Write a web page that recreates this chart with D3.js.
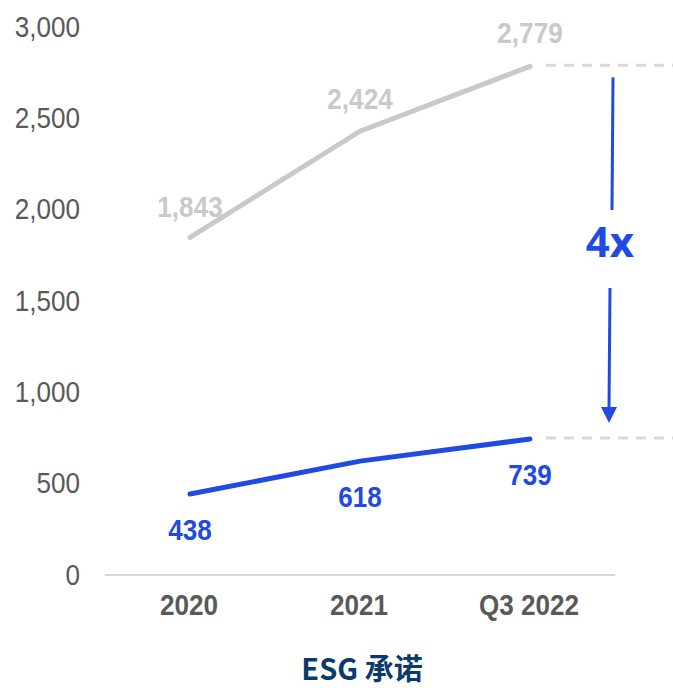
<!DOCTYPE html>
<html>
<head>
<meta charset="utf-8">
<script src="https://cdn.jsdelivr.net/npm/d3@7"></script>
<style>
  html, body { margin: 0; padding: 0; background: #fff; }
  svg { display: block; }
</style>
</head>
<body>
<svg id="chart" width="673" height="688"></svg>
<script>
// Periods and the two series plotted against them
const periods = ["2020", "2021", "Q3 2022"];
const totalValues = [1843, 2424, 2779];
const esgValues = [438, 618, 739];
const yTicks = [0, 500, 1000, 1500, 2000, 2500, 3000];
const titleText = "ESG 承诺";
const ratioText = "4x";

const svg = d3.select("#chart");
const fmt = d3.format(",");

const x = d3.scalePoint().domain(periods).range([105, 615]).padding(0.5);
const y = d3.scaleLinear().domain([0, 3000]).range([574, 26]);

const latin = "'Liberation Sans', Arial, sans-serif";
const grey = "#c9c9c9";
const blue = "#1f4ae3";
const squeeze = "scale(0.9,1)";

// Y axis: labels only
const yAxis = svg.append("g")
  .attr("transform", "translate(80,0)")
  .call(d3.axisLeft(y).tickValues(yTicks).tickFormat(fmt).tickSize(0).tickPadding(0));
yAxis.select(".domain").remove();
yAxis.selectAll("text")
  .attr("x", 0)
  .attr("font-family", latin).attr("font-size", 29).attr("fill", "#595959")
  .attr("dy", "0.35em").attr("transform", squeeze);

// X axis baseline and period labels
const xAxis = svg.append("g")
  .attr("transform", "translate(0,575)")
  .call(d3.axisBottom(x).tickSize(0).tickPadding(0));
xAxis.select(".domain")
  .attr("d", "M105,0H615").attr("stroke", "#d9d9d9").attr("stroke-width", 2);
xAxis.selectAll("text")
  .attr("y", 40).attr("dy", 0)
  .attr("font-family", latin).attr("font-size", 29).attr("font-weight", "bold")
  .attr("fill", "#595959").attr("transform", squeeze);
xAxis.selectAll(".tick").attr("transform", d => `translate(${x(d) - 1},0)`);

const line = d3.line().x((d, i) => x(periods[i])).y(d => y(d));

// Reference dashes at the final values
const dashStart = 546;
[totalValues[2], esgValues[2]].forEach(v => {
  svg.append("line")
    .attr("x1", dashStart).attr("x2", 673)
    .attr("y1", y(v) - 1).attr("y2", y(v) - 1)
    .attr("stroke", "#d9d9d9").attr("stroke-width", 3)
    .attr("stroke-dasharray", "10,8");
});

svg.append("path").datum(totalValues)
  .attr("d", line).attr("fill", "none")
  .attr("stroke", grey).attr("stroke-width", 5).attr("stroke-linecap", "round");

svg.append("path").datum(esgValues)
  .attr("d", line).attr("fill", "none")
  .attr("stroke", blue).attr("stroke-width", 5).attr("stroke-linecap", "round");

// Value labels: grey above the upper line, blue below the lower line
function valueLabels(values, offsets, colour, cls) {
  svg.selectAll("." + cls).data(values).join("text")
    .attr("class", cls)
    .attr("transform", (d, i) => `translate(${x(periods[i])},${y(d) + offsets[i]}) ${squeeze}`)
    .attr("text-anchor", "middle")
    .attr("font-family", latin).attr("font-size", 29).attr("font-weight", "bold")
    .attr("fill", colour)
    .text(d => fmt(d));
}
valueLabels(totalValues, [-20, -22, -23], grey, "lbl-total");
valueLabels(esgValues, [46, 46, 46], blue, "lbl-esg");

// Ratio arrow between the two end values
const arrowTop = y(totalValues[2]) + 11;
const arrowTip = y(esgValues[2]) - 16;
svg.append("line")
  .attr("x1", 613).attr("y1", arrowTop).attr("x2", 612).attr("y2", 210)
  .attr("stroke", blue).attr("stroke-width", 3);
svg.append("line")
  .attr("x1", 610).attr("y1", 288).attr("x2", 609).attr("y2", arrowTip - 14)
  .attr("stroke", blue).attr("stroke-width", 3);
svg.append("path")
  .attr("d", `M${601},${arrowTip - 16}L${617},${arrowTip - 16}L${609},${arrowTip}Z`)
  .attr("fill", blue);
svg.append("text")
  .attr("x", 610).attr("y", 257)
  .attr("text-anchor", "middle")
  .attr("font-family", "'Noto Sans', 'Open Sans', sans-serif")
  .attr("font-size", 42).attr("font-weight", "bold").attr("fill", blue)
  .text(ratioText);

// Title
svg.append("text")
  .attr("x", 362).attr("y", 680)
  .attr("text-anchor", "middle")
  .attr("font-family", "'Noto Sans CJK SC', sans-serif")
  .attr("font-size", 29).attr("font-weight", "bold").attr("fill", "#0b3a6e")
  .text(titleText);
</script>
</body>
</html>
